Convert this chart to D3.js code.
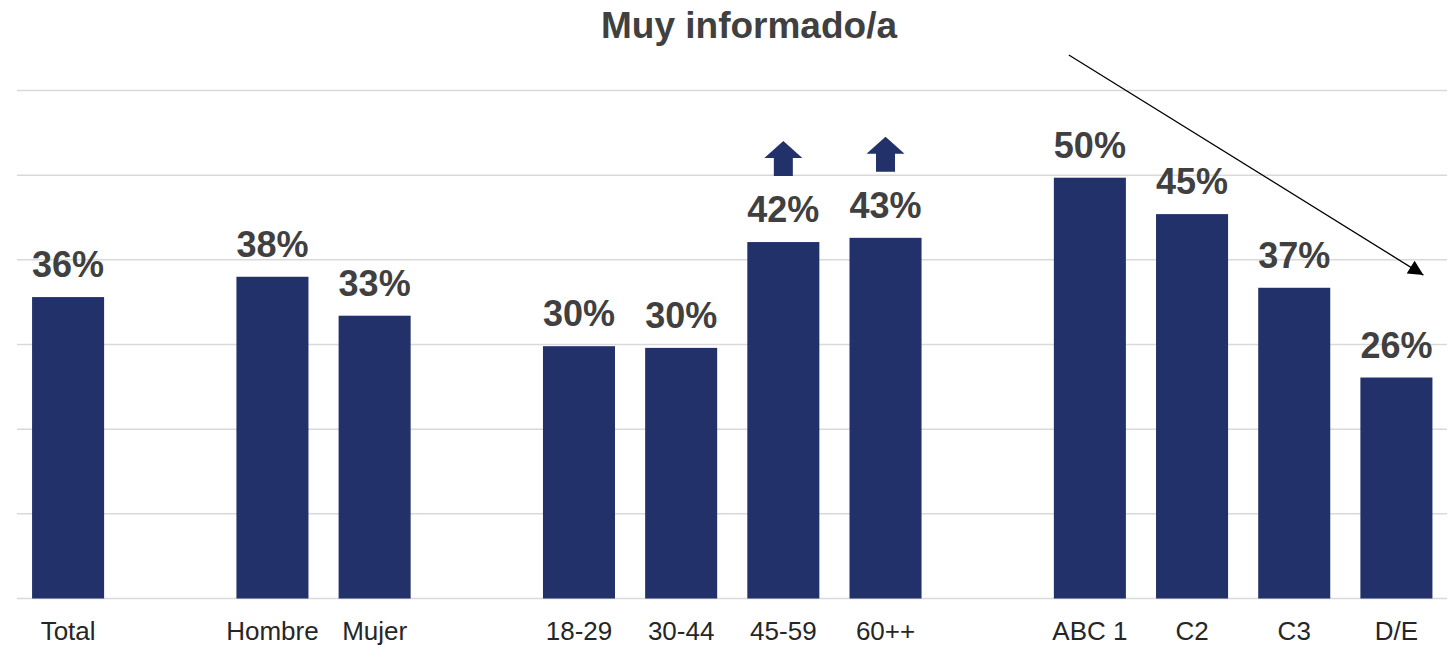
<!DOCTYPE html>
<html>
<head>
<meta charset="utf-8">
<script src="https://cdn.jsdelivr.net/npm/d3@7"></script>
<style>
  body { margin: 0; background: #fff; }
  svg { display: block; font-family: "Liberation Sans", Arial, sans-serif; }
</style>
</head>
<body>
<div id="chart"></div>
<script>
// Categories; empty keys are the gaps between groups
const categories = ['Total', 'g1', 'Hombre', 'Mujer', 'g2', '18-29', '30-44', '45-59', '60++', 'g3', 'ABC1', 'C2', 'C3', 'D/E'];
const tickLabels = ['Total', '', 'Hombre', 'Mujer', '', '18-29', '30-44', '45-59', '60++', '', 'ABC 1', 'C2', 'C3', 'D/E'];
const barCategories = ['Total', 'Hombre', 'Mujer', '18-29', '30-44', '45-59', '60++', 'ABC1', 'C2', 'C3', 'D/E'];
const barValues = [35.6, 38.0, 33.4, 29.8, 29.6, 42.1, 42.6, 49.7, 45.4, 36.7, 26.1];
const upArrows = ['45-59', '60++'];
const yTicks = [0, 10, 20, 30, 40, 50, 60];

const width = 1453;
const height = 645;
const navy = '#22316a';
const textColor = '#404040';

const svg = d3.select('#chart').append('svg')
    .attr('width', width)
    .attr('height', height);

const x = d3.scaleBand()
    .domain(categories)
    .range([17, 1447.5])
    .paddingInner(0.295)
    .paddingOuter(0.1475);

const y = d3.scaleLinear()
    .domain([0, 60])
    .range([598.5, 90.5]);

// Gridlines
svg.append('g')
    .attr('class', 'grid')
  .selectAll('line')
    .data(yTicks)
  .enter().append('line')
    .attr('x1', 17)
    .attr('x2', 1447)
    .attr('y1', d => y(d))
    .attr('y2', d => y(d))
    .attr('stroke', '#d9d9d9')
    .attr('stroke-width', 1.5);

const data = barCategories.map((c, i) => ({ cat: c, value: barValues[i] }));

// Bars
svg.append('g')
  .selectAll('rect')
    .data(data)
  .enter().append('rect')
    .attr('x', d => x(d.cat))
    .attr('width', x.bandwidth())
    .attr('y', d => y(d.value))
    .attr('height', d => y(0) - y(d.value))
    .attr('fill', navy);

// Value labels
svg.append('g')
  .selectAll('text')
    .data(data)
  .enter().append('text')
    .attr('x', d => x(d.cat) + x.bandwidth() / 2)
    .attr('y', d => y(d.value) - 20)
    .attr('text-anchor', 'middle')
    .attr('font-size', 36)
    .attr('font-weight', 'bold')
    .attr('fill', textColor)
    .text(d => Math.round(d.value) + '%');

// Category labels
const xAxis = d3.axisBottom(x)
    .tickSize(0)
    .tickPadding(0)
    .tickFormat((d, i) => tickLabels[i]);

svg.append('g')
    .attr('transform', 'translate(0, 640)')
    .call(xAxis)
    .call(g => g.select('.domain').remove())
    .call(g => g.selectAll('text')
        .attr('dy', 0)
        .attr('font-size', 26)
        .attr('font-family', '"Liberation Sans", Arial, sans-serif')
        .attr('fill', '#262626'));

// Up arrows above the older age groups
const arrowShape = 'M0,-35 L19,-18 L9.5,-18 L9.5,0 L-9.5,0 L-9.5,-18 L-19,-18 Z';
svg.append('g')
  .selectAll('path')
    .data(data.filter(d => upArrows.includes(d.cat)))
  .enter().append('path')
    .attr('transform', d => `translate(${x(d.cat) + x.bandwidth() / 2}, ${y(d.value) - 66})`)
    .attr('d', arrowShape)
    .attr('fill', navy);

// Trend arrow across socioeconomic groups
svg.append('defs').append('marker')
    .attr('id', 'head')
    .attr('viewBox', '0 0 10 10')
    .attr('refX', 10)
    .attr('refY', 5)
    .attr('markerUnits', 'userSpaceOnUse')
    .attr('markerWidth', 19)
    .attr('markerHeight', 15)
    .attr('orient', 'auto')
  .append('path')
    .attr('d', 'M0,0 L10,5 L0,10 Z')
    .attr('fill', '#000');

svg.append('line')
    .attr('x1', x('ABC1') + 15)
    .attr('y1', y(64.2))
    .attr('x2', x('D/E') + 63)
    .attr('y2', y(38.2))
    .attr('stroke', '#000')
    .attr('stroke-width', 1.3)
    .attr('marker-end', 'url(#head)');

// Title
svg.append('text')
    .attr('x', 749)
    .attr('y', 38)
    .attr('text-anchor', 'middle')
    .attr('font-size', 37)
    .attr('font-weight', 'bold')
    .attr('fill', textColor)
    .text('Muy informado/a');
</script>
</body>
</html>
